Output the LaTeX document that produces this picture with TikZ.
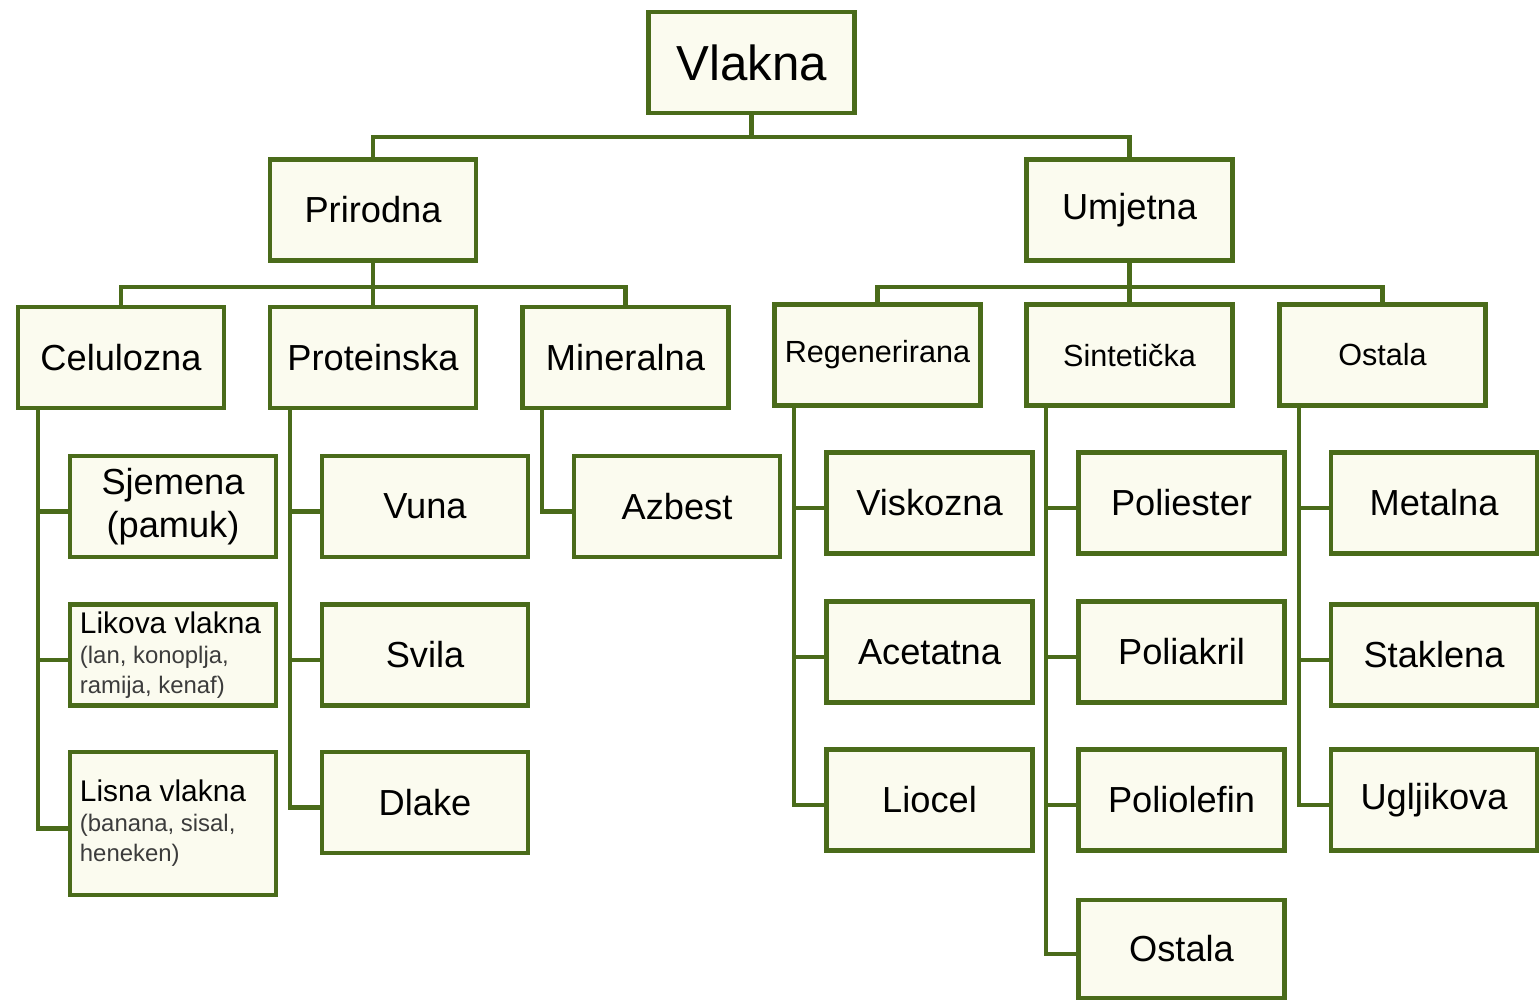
\documentclass[tikz,border=0pt]{standalone}
\usepackage{fontspec}
\setmainfont{Liberation Sans}
\usepackage{tikz}
\usetikzlibrary{calc}

\definecolor{fgreen}{HTML}{4A6B1A}
\definecolor{fcream}{HTML}{FBFBEF}
\definecolor{fgrey}{HTML}{3C3C3C}

\begin{document}
\frenchspacing
\begin{tikzpicture}[x=0.01cm,y=-0.01cm,
    box/.style={draw=fgreen, fill=fcream, line width=1.2pt,
      minimum width=2.06cm, minimum height=1.01cm, inner sep=0pt,
      align=center, font=\fontsize{10.3}{12.3}\selectfont},
    smallbox/.style={box, font=\fontsize{8.7}{10.5}\selectfont},
    notebox/.style={box, text width=1.86cm, align=flush left,
      font=\fontsize{8.5}{8.5}\selectfont},
    wire/.style={draw=fgreen, line width=1.2pt}]
  \useasboundingbox (0,0) rectangle (1540,1002);

  % top
  \node[box, font=\fontsize{14}{16}\selectfont] (vlakna) at (751.5,62.5) {Vlakna};
  \node[box] (prirodna) at (373,210) {Prirodna};
  \node[box] (umjetna) at (1129.5,210) {Umjetna};

  \coordinate (j0) at (751.5,137);
  \draw[wire] (vlakna.south) -- (j0);
  \draw[wire] (prirodna.north) |- (j0) -| (umjetna.north);

  % second row
  \node[box] (celulozna) at (121,357.5) {Celulozna};
  \node[box] (proteinska) at (373,357.5) {Proteinska};
  \node[box] (mineralna) at (625.5,357.5) {Mineralna};
  \node[smallbox] (regen) at (877.5,355) {Regenerirana};
  \node[smallbox] (sint) at (1129.5,355) {Sinteti\v{c}ka};
  \node[smallbox] (ostala) at (1382.5,355) {Ostala};

  \coordinate (j1) at (373,287);
  \coordinate (j2) at (1129.5,287);
  \draw[wire] (prirodna.south) -- (proteinska.north);
  \draw[wire] (celulozna.north) |- (j1) -| (mineralna.north);
  \draw[wire] (umjetna.south) -- (sint.north);
  \draw[wire] (regen.north) |- (j2) -| (ostala.north);

  % left: prirodna leaves
  \node[box] (sjemena) at (173,506.5) {Sjemena\\(pamuk)};
  \node[notebox] (likova) at (173,655) {Likova vlakna\\
    {\fontsize{6.8}{8.5}\selectfont\color{fgrey}(lan, konoplja,\\ramija, kenaf)}};
  \node[notebox, minimum height=1.43cm] (lisna) at (173,823.5) {Lisna vlakna\\
    {\fontsize{6.8}{8.5}\selectfont\color{fgrey}(banana, sisal,\\heneken)}};

  \node[box] (vuna) at (425,506.5) {Vuna};
  \node[box] (svila) at (425,655) {Svila};
  \node[box] (dlake) at (425,802.5) {Dlake};

  \node[box] (azbest) at (677,506.5) {Azbest};

  % right: umjetna leaves
  \node[box] (viskozna) at (929.5,503) {Viskozna};
  \node[box] (acetatna) at (929.5,652) {Acetatna};
  \node[box] (liocel) at (929.5,800) {Liocel};

  \node[box] (poliester) at (1181.5,503) {Poliester};
  \node[box] (poliakril) at (1181.5,652) {Poliakril};
  \node[box] (poliolefin) at (1181.5,800) {Poliolefin};
  \node[box, minimum height=0.98cm] (ostala2) at (1181.5,949) {Ostala};

  \node[box] (metalna) at (1434,503) {Metalna};
  \node[box] (staklena) at (1434,655) {Staklena};
  \node[box] (ugljikova) at (1434,800) {Ugljikova};

  % spines
  \foreach \top/\leaves in {celulozna/{sjemena,likova,lisna},
      proteinska/{vuna,svila,dlake}, mineralna/{azbest},
      regen/{viskozna,acetatna,liocel},
      sint/{poliester,poliakril,poliolefin,ostala2},
      ostala/{metalna,staklena,ugljikova}} {
    \coordinate (s) at ([xshift=2.2mm]\top.south west);
    \foreach \l in \leaves {
      \draw[wire] (s) |- ([yshift=-0.5mm]\l.west);
    }
  }
\end{tikzpicture}
\end{document}
